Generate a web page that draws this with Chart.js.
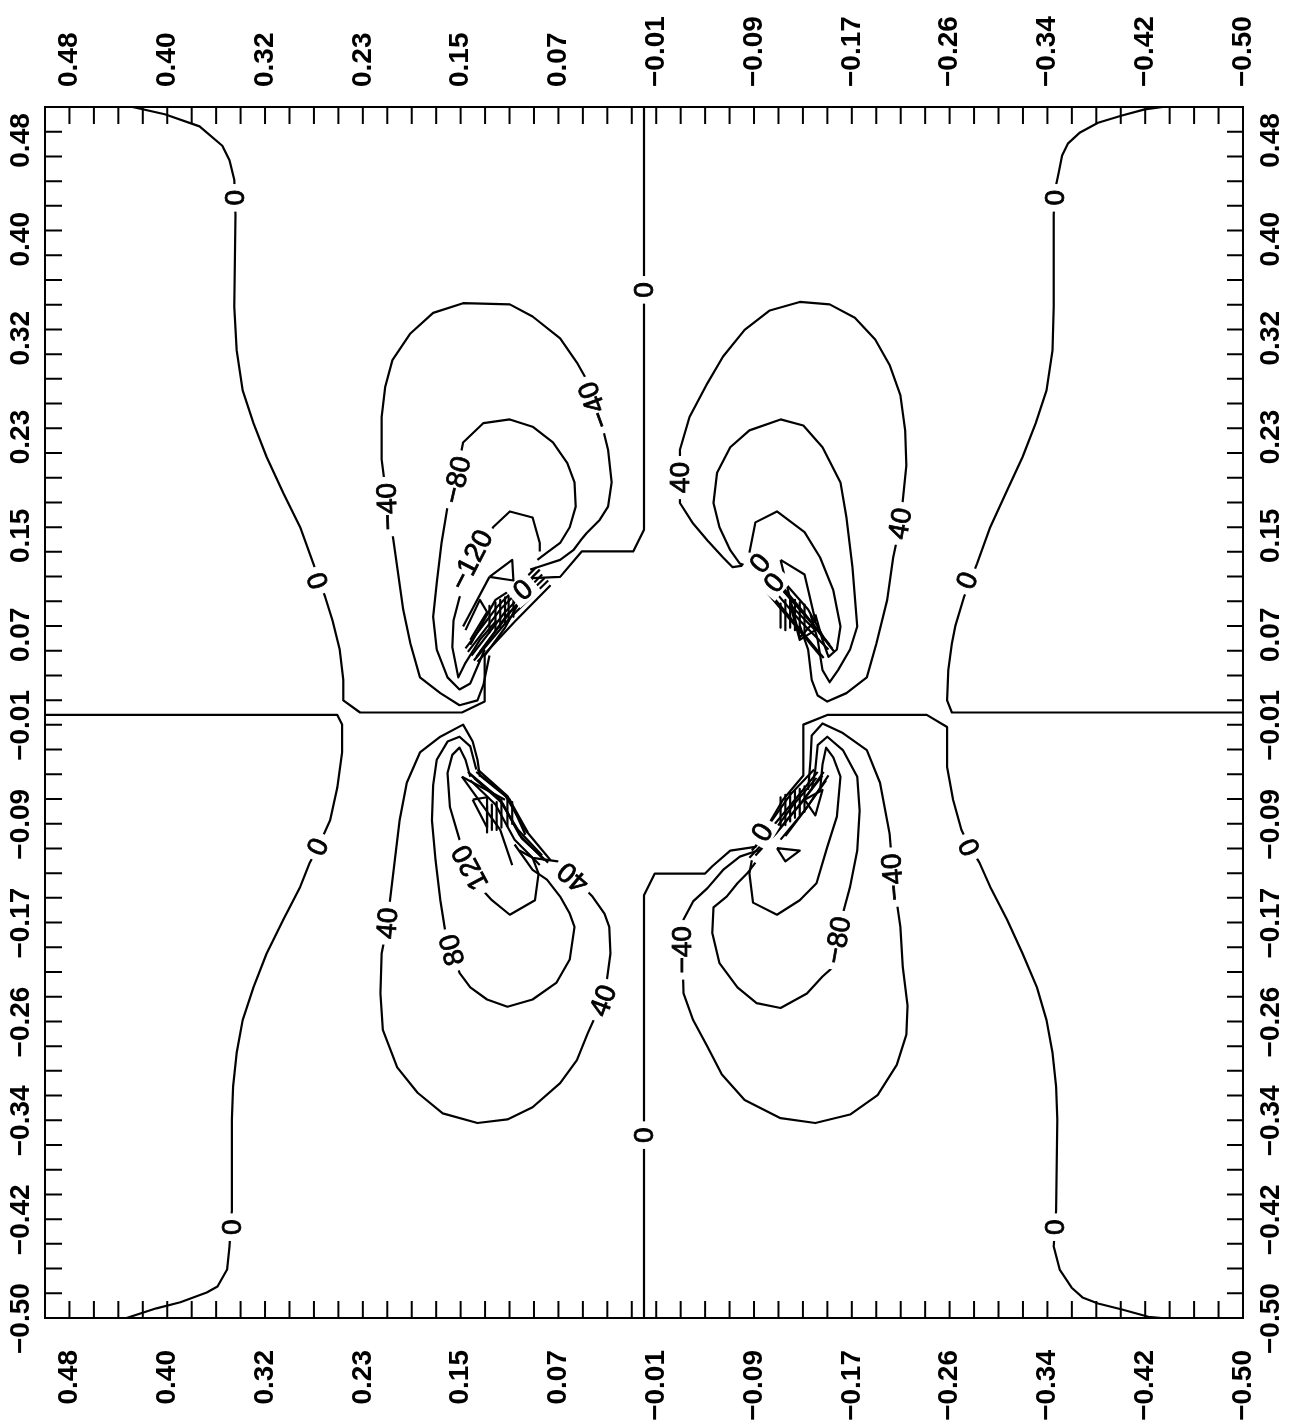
<!DOCTYPE html>
<html>
<head>
<meta charset="utf-8">
<script src="https://cdn.jsdelivr.net/npm/chart.js@4.4.1/dist/chart.umd.min.js"></script>
<style>
  html, body { margin: 0; padding: 0; background: #fff; }
  #wrap { width: 1295px; height: 1427px; }
</style>
</head>
<body>
<div id="wrap"><canvas id="contour" width="1295" height="1427"></canvas></div>
<script>
// tick labels (same on all four sides) and the values they sit at
const tickLabels = ['0.48', '0.40', '0.32', '0.23', '0.15', '0.07', '\u22120.01', '\u22120.09', '\u22120.17', '\u22120.26', '\u22120.34', '\u22120.42', '\u22120.50'];
const tickValues = [0.4796, 0.3980, 0.3163, 0.2347, 0.1531, 0.0714, -0.0102, -0.0918, -0.1735, -0.2551, -0.3367, -0.4184, -0.5];

// contour lines, [h, v] pairs
// upper left
const tlZero = [[0.427,0.500],[0.400,0.494],[0.371,0.484],[0.352,0.468],[0.346,0.456],[0.342,0.440],[0.341,0.411],[0.342,0.335],[0.340,0.299],[0.335,0.266],[0.326,0.239],[0.315,0.211],[0.301,0.181],[0.287,0.153],[0.276,0.123],[0.266,0.095],[0.260,0.076],[0.254,0.052],[0.251,0.027],[0.251,0.010],[0.237,0.000],[0.152,0.000],[0.133,0.009],[0.133,0.047],[0.116,0.070],[0.093,0.111],[0.070,0.112],[0.052,0.133],[0.009,0.133],[0.000,0.151],[0.000,0.500]];
const tl40 = [[0.095,0.118],[0.089,0.120],[0.070,0.126],[0.059,0.134],[0.053,0.142],[0.048,0.148],[0.037,0.159],[0.030,0.170],[0.027,0.190],[0.030,0.217],[0.034,0.233],[0.043,0.261],[0.048,0.275],[0.056,0.289],[0.070,0.309],[0.093,0.327],[0.112,0.337],[0.151,0.338],[0.176,0.330],[0.195,0.313],[0.210,0.291],[0.216,0.269],[0.219,0.244],[0.219,0.209],[0.215,0.178],[0.210,0.148],[0.206,0.120],[0.201,0.085],[0.195,0.057],[0.187,0.029],[0.170,0.016],[0.154,0.006],[0.139,0.010],[0.134,0.023],[0.129,0.047]];
const tl80 = [[0.089,0.126],[0.081,0.132],[0.070,0.140],[0.062,0.153],[0.057,0.170],[0.058,0.190],[0.064,0.206],[0.076,0.223],[0.093,0.236],[0.112,0.242],[0.134,0.239],[0.151,0.223],[0.156,0.198],[0.164,0.170],[0.169,0.140],[0.173,0.107],[0.176,0.079],[0.173,0.052],[0.164,0.029],[0.154,0.019],[0.145,0.024],[0.139,0.038],[0.133,0.052]];
const tl120 = [[0.087,0.133],[0.087,0.140],[0.093,0.161],[0.112,0.166],[0.126,0.153],[0.154,0.095],[0.159,0.076],[0.160,0.054],[0.155,0.029],[0.149,0.041],[0.137,0.060],[0.123,0.076]];
const tlCore = [
  [[0.147,0.050],[0.120,0.085],[0.087,0.118]],
  [[0.144,0.047],[0.116,0.083],[0.085,0.114]],
  [[0.140,0.046],[0.114,0.081],[0.083,0.111]],
  [[0.137,0.050],[0.110,0.085],[0.091,0.105]],
  [[0.145,0.056],[0.124,0.093],[0.099,0.109]],
  [[0.142,0.043],[0.112,0.078],[0.080,0.109]],
  [[0.149,0.053],[0.122,0.088],[0.090,0.120]],
  [[0.139,0.042],[0.108,0.075],[0.078,0.105]],
  [[0.129,0.088],[0.129,0.066]],
  [[0.124,0.091],[0.124,0.068]],
  [[0.120,0.093],[0.120,0.070]],
  [[0.116,0.095],[0.116,0.073]],
  [[0.113,0.096],[0.113,0.076]],
  [[0.109,0.098],[0.109,0.079]],
  [[0.129,0.112],[0.110,0.126],[0.109,0.109],[0.129,0.112]],
  [[0.151,0.071],[0.129,0.112]],
  [[0.149,0.068],[0.137,0.093],[0.131,0.083],[0.145,0.060]]
];

// upper right
const trZero = [[-0.433,0.500],[-0.418,0.498],[-0.399,0.493],[-0.379,0.487],[-0.364,0.479],[-0.354,0.470],[-0.349,0.460],[-0.346,0.445],[-0.343,0.431],[-0.342,0.411],[-0.342,0.335],[-0.341,0.299],[-0.336,0.266],[-0.327,0.239],[-0.316,0.211],[-0.302,0.181],[-0.289,0.153],[-0.278,0.123],[-0.267,0.095],[-0.260,0.072],[-0.257,0.057],[-0.254,0.035],[-0.253,0.010],[-0.257,0.000],[-0.500,0.000]];
const tr40 = [[-0.094,0.123],[-0.074,0.120],[-0.066,0.128],[-0.053,0.142],[-0.041,0.156],[-0.030,0.173],[-0.030,0.194],[-0.030,0.217],[-0.038,0.244],[-0.053,0.272],[-0.066,0.294],[-0.084,0.316],[-0.105,0.332],[-0.130,0.339],[-0.155,0.337],[-0.176,0.326],[-0.193,0.308],[-0.205,0.287],[-0.214,0.262],[-0.218,0.233],[-0.219,0.204],[-0.216,0.175],[-0.214,0.156],[-0.208,0.128],[-0.203,0.093],[-0.194,0.057],[-0.186,0.029],[-0.169,0.016],[-0.153,0.009],[-0.145,0.014],[-0.140,0.027],[-0.137,0.052],[-0.130,0.072]];
const tr80 = [[-0.091,0.119],[-0.080,0.123],[-0.072,0.134],[-0.063,0.153],[-0.058,0.173],[-0.061,0.198],[-0.072,0.219],[-0.088,0.233],[-0.114,0.242],[-0.133,0.237],[-0.149,0.219],[-0.164,0.190],[-0.169,0.161],[-0.174,0.120],[-0.178,0.071],[-0.172,0.052],[-0.162,0.035],[-0.155,0.025],[-0.149,0.035],[-0.145,0.060],[-0.139,0.081]];
const tr120 = [[-0.088,0.132],[-0.093,0.157],[-0.111,0.166],[-0.134,0.149],[-0.147,0.128],[-0.158,0.101],[-0.164,0.071],[-0.161,0.052],[-0.154,0.046],[-0.149,0.060],[-0.143,0.081]];
const trCore = [
  [[-0.105,0.105],[-0.130,0.076],[-0.154,0.052]],
  [[-0.109,0.109],[-0.134,0.081],[-0.155,0.056]],
  [[-0.114,0.111],[-0.137,0.085],[-0.151,0.060]],
  [[-0.101,0.101],[-0.126,0.072],[-0.147,0.047]],
  [[-0.107,0.114],[-0.133,0.083],[-0.157,0.053]],
  [[-0.104,0.100],[-0.129,0.070],[-0.150,0.045]],
  [[-0.112,0.105],[-0.139,0.075],[-0.159,0.050]],
  [[-0.114,0.090],[-0.114,0.070]],
  [[-0.118,0.093],[-0.118,0.068]],
  [[-0.122,0.095],[-0.122,0.070]],
  [[-0.126,0.093],[-0.126,0.068]],
  [[-0.130,0.091],[-0.130,0.066]],
  [[-0.134,0.089],[-0.134,0.064]],
  [[-0.114,0.126],[-0.134,0.114],[-0.143,0.076],[-0.130,0.062],[-0.114,0.126]],
  [[-0.122,0.089],[-0.143,0.068],[-0.130,0.060],[-0.122,0.089]]
];

// lower left
const blZero = [[0.500,-0.002],[0.256,-0.002],[0.252,-0.010],[0.252,-0.033],[0.256,-0.062],[0.262,-0.089],[0.272,-0.111],[0.279,-0.124],[0.287,-0.144],[0.301,-0.171],[0.315,-0.199],[0.326,-0.227],[0.335,-0.254],[0.340,-0.281],[0.343,-0.309],[0.344,-0.336],[0.344,-0.411],[0.346,-0.441],[0.348,-0.460],[0.356,-0.474],[0.365,-0.479],[0.387,-0.487],[0.407,-0.492],[0.432,-0.500]];
const bl40 = [[0.137,-0.053],[0.139,-0.039],[0.143,-0.024],[0.151,-0.010],[0.170,-0.020],[0.187,-0.033],[0.198,-0.058],[0.204,-0.089],[0.208,-0.122],[0.212,-0.155],[0.214,-0.174],[0.219,-0.199],[0.220,-0.232],[0.218,-0.262],[0.206,-0.293],[0.189,-0.314],[0.168,-0.331],[0.139,-0.339],[0.114,-0.336],[0.093,-0.326],[0.070,-0.306],[0.056,-0.287],[0.047,-0.265],[0.037,-0.243],[0.031,-0.221],[0.028,-0.199],[0.029,-0.177],[0.033,-0.166],[0.043,-0.152],[0.059,-0.136],[0.072,-0.123],[0.093,-0.120],[0.104,-0.114]];
const bl80 = [[0.108,-0.109],[0.093,-0.130],[0.081,-0.138],[0.070,-0.152],[0.062,-0.166],[0.058,-0.177],[0.062,-0.204],[0.073,-0.223],[0.093,-0.237],[0.114,-0.243],[0.131,-0.237],[0.145,-0.227],[0.154,-0.215],[0.160,-0.196],[0.166,-0.180],[0.170,-0.155],[0.174,-0.122],[0.177,-0.089],[0.176,-0.060],[0.173,-0.039],[0.164,-0.024],[0.154,-0.020],[0.145,-0.028],[0.140,-0.047]];
const bl120 = [[0.093,-0.120],[0.088,-0.133],[0.091,-0.155],[0.112,-0.167],[0.127,-0.155],[0.139,-0.142],[0.145,-0.128],[0.154,-0.105],[0.162,-0.078],[0.164,-0.050],[0.160,-0.035],[0.154,-0.029],[0.149,-0.039],[0.145,-0.053]];
const blCore = [
  [[0.144,-0.052],[0.120,-0.072],[0.104,-0.101],[0.083,-0.122]],
  [[0.140,-0.049],[0.116,-0.068],[0.099,-0.097],[0.078,-0.122]],
  [[0.137,-0.052],[0.112,-0.072],[0.099,-0.101]],
  [[0.145,-0.056],[0.124,-0.076],[0.108,-0.105],[0.087,-0.126]],
  [[0.147,-0.049],[0.122,-0.070],[0.105,-0.097],[0.085,-0.118]],
  [[0.142,-0.054],[0.118,-0.075],[0.102,-0.104],[0.080,-0.124]],
  [[0.139,-0.047],[0.114,-0.069],[0.097,-0.099]],
  [[0.131,-0.077],[0.131,-0.099]],
  [[0.127,-0.076],[0.127,-0.097]],
  [[0.123,-0.074],[0.123,-0.097]],
  [[0.119,-0.072],[0.119,-0.095]],
  [[0.114,-0.072],[0.114,-0.094]],
  [[0.110,-0.074],[0.110,-0.092]],
  [[0.152,-0.053],[0.116,-0.072]],
  [[0.152,-0.053],[0.120,-0.097],[0.110,-0.126]],
  [[0.143,-0.072],[0.131,-0.070],[0.131,-0.095],[0.143,-0.072]]
];

// lower right
const brZero = [[0.000,-0.500],[0.000,-0.151],[-0.009,-0.133],[-0.051,-0.133],[-0.057,-0.127],[-0.072,-0.114],[-0.093,-0.111],[-0.116,-0.072],[-0.133,-0.052],[-0.133,-0.010],[-0.153,-0.002],[-0.236,-0.002],[-0.253,-0.012],[-0.253,-0.045],[-0.258,-0.072],[-0.265,-0.097],[-0.272,-0.111],[-0.280,-0.124],[-0.289,-0.144],[-0.303,-0.171],[-0.316,-0.199],[-0.328,-0.227],[-0.336,-0.254],[-0.341,-0.281],[-0.344,-0.309],[-0.345,-0.336],[-0.344,-0.411],[-0.342,-0.441],[-0.347,-0.460],[-0.357,-0.475],[-0.366,-0.483],[-0.379,-0.488],[-0.399,-0.493],[-0.421,-0.499],[-0.432,-0.500]];
const br40 = [[-0.095,-0.114],[-0.080,-0.119],[-0.066,-0.130],[-0.053,-0.145],[-0.041,-0.156],[-0.033,-0.171],[-0.032,-0.196],[-0.033,-0.232],[-0.041,-0.254],[-0.053,-0.276],[-0.065,-0.299],[-0.084,-0.320],[-0.114,-0.335],[-0.143,-0.339],[-0.172,-0.332],[-0.195,-0.316],[-0.211,-0.291],[-0.219,-0.266],[-0.220,-0.242],[-0.216,-0.210],[-0.214,-0.177],[-0.208,-0.136],[-0.205,-0.100],[-0.197,-0.058],[-0.186,-0.031],[-0.166,-0.017],[-0.149,-0.009],[-0.140,-0.019],[-0.139,-0.039],[-0.137,-0.064]];
const br80 = [[-0.093,-0.124],[-0.086,-0.133],[-0.078,-0.141],[-0.069,-0.152],[-0.058,-0.161],[-0.057,-0.182],[-0.063,-0.207],[-0.078,-0.227],[-0.094,-0.240],[-0.114,-0.244],[-0.136,-0.232],[-0.149,-0.218],[-0.158,-0.210],[-0.162,-0.188],[-0.166,-0.166],[-0.172,-0.144],[-0.178,-0.114],[-0.180,-0.081],[-0.178,-0.053],[-0.166,-0.031],[-0.153,-0.020],[-0.145,-0.027],[-0.143,-0.047],[-0.140,-0.064]];
const br120 = [[-0.090,-0.122],[-0.088,-0.133],[-0.091,-0.157],[-0.111,-0.167],[-0.130,-0.155],[-0.144,-0.141],[-0.153,-0.111],[-0.161,-0.086],[-0.164,-0.053],[-0.158,-0.037],[-0.152,-0.029],[-0.149,-0.043],[-0.147,-0.064]];
const brCore = [
  [[-0.149,-0.052],[-0.130,-0.076],[-0.109,-0.101],[-0.093,-0.118]],
  [[-0.145,-0.049],[-0.126,-0.072],[-0.105,-0.097],[-0.090,-0.114]],
  [[-0.152,-0.056],[-0.134,-0.081],[-0.114,-0.105]],
  [[-0.142,-0.047],[-0.122,-0.068],[-0.104,-0.093]],
  [[-0.150,-0.049],[-0.132,-0.074],[-0.111,-0.099],[-0.095,-0.115]],
  [[-0.144,-0.054],[-0.124,-0.077],[-0.107,-0.100],[-0.088,-0.120]],
  [[-0.154,-0.052],[-0.137,-0.077],[-0.118,-0.102]],
  [[-0.114,-0.070],[-0.114,-0.095]],
  [[-0.118,-0.068],[-0.118,-0.093]],
  [[-0.122,-0.066],[-0.122,-0.090]],
  [[-0.126,-0.064],[-0.126,-0.087]],
  [[-0.130,-0.063],[-0.130,-0.085]],
  [[-0.134,-0.061],[-0.134,-0.082]],
  [[-0.111,-0.112],[-0.130,-0.114],[-0.118,-0.123],[-0.111,-0.112]],
  [[-0.134,-0.072],[-0.149,-0.064],[-0.143,-0.085],[-0.134,-0.072]]
];

// contour labels: [text, h, v]
const contourLabels = [
  ['0', 0.341, 0.425], ['0', 0.272, 0.109], ['0', 0.000, 0.349],
  ['\u221240', 0.214, 0.170], ['\u221240', 0.041, 0.254], ['\u221280', 0.156, 0.192], ['\u2212120', 0.144, 0.126], ['0', 0.101, 0.101],
  ['0', -0.343, 0.425], ['0', -0.270, 0.109],
  ['40', -0.030, 0.194], ['40', -0.214, 0.156], ['0', -0.097, 0.123], ['0', -0.109, 0.107],
  ['0', 0.272, -0.111], ['0', 0.344, -0.425], ['0', 0.000, -0.349],
  ['40', 0.214, -0.174], ['40', 0.034, -0.238], ['40', 0.059, -0.136], ['80', 0.160, -0.196], ['120', 0.145, -0.128],
  ['0', -0.272, -0.111], ['0', -0.343, -0.425],
  ['\u221240', -0.032, -0.196], ['\u221240', -0.208, -0.136], ['\u221280', -0.162, -0.188], ['0', -0.099, -0.099]
];
const labelAngles = [-90, -109, -90, -92, -110, -77, -63, -40, -90, -69, -90, -80, -50, -50, -65, -90, -90, -85, -70, -140, -105, -118, -115, -90, -90, -95, -80, -60];

const contourLines = [
  tlZero, tl40, tl80, tl120, ...tlCore,
  trZero, tr40, tr80, tr120, ...trCore,
  blZero, bl40, bl80, bl120, ...blCore,
  brZero, br40, br80, br120, ...brCore
];

const frameAndLabels = {
  id: 'frameAndLabels',
  afterDatasetsDraw(chart) {
    const { ctx, chartArea: a, scales: { x, y } } = chart;
    ctx.save();
    ctx.strokeStyle = '#000';
    ctx.lineWidth = 2;
    ctx.strokeRect(a.left, a.top, a.right - a.left, a.bottom - a.top);

    // inward ticks every 1/49
    ctx.beginPath();
    for (let k = 1; k < 49; k++) {
      const val = 0.5 - k / 49;
      const px = x.getPixelForValue(val);
      const py = y.getPixelForValue(val);
      ctx.moveTo(px, a.top); ctx.lineTo(px, a.top + 17);
      ctx.moveTo(px, a.bottom); ctx.lineTo(px, a.bottom - 17);
      ctx.moveTo(a.left, py); ctx.lineTo(a.left + 17, py);
      ctx.moveTo(a.right, py); ctx.lineTo(a.right - 16, py);
    }
    ctx.stroke();

    // tick labels, rotated to read upward
    ctx.fillStyle = '#000';
    ctx.font = 'bold 28px "Liberation Sans", Arial, sans-serif';
    const rot = (t, cx, cy, align) => {
      ctx.save();
      ctx.translate(cx, cy);
      ctx.rotate(-Math.PI / 2);
      ctx.textAlign = align;
      ctx.textBaseline = 'middle';
      ctx.fillText(t, 0, 0);
      ctx.restore();
    };
    tickValues.forEach((val, i) => {
      const t = tickLabels[i];
      const px = x.getPixelForValue(val);
      const py = y.getPixelForValue(val);
      rot(t, px, a.top - 20, 'left');
      rot(t, px, a.bottom + 32, 'right');
      rot(t, a.left - 24, py + 36, 'left');
      rot(t, a.right + 28, py + 36, 'left');
    });

    // contour labels with a white gap in the line
    ctx.font = '28px "Liberation Sans", Arial, sans-serif';
    ctx.lineWidth = 0.8;
    contourLabels.forEach((lb, i) => {
      const px = x.getPixelForValue(lb[1]);
      const py = y.getPixelForValue(lb[2]);
      ctx.save();
      ctx.translate(px, py);
      ctx.rotate(labelAngles[i] * Math.PI / 180);
      const w = ctx.measureText(lb[0]).width;
      ctx.fillStyle = '#fff';
      ctx.fillRect(-w / 2 - 6, -12, w + 12, 24);
      ctx.fillStyle = '#000';
      ctx.textAlign = 'center';
      ctx.textBaseline = 'middle';
      ctx.fillText(lb[0], 0, 1);
      ctx.strokeText(lb[0], 0, 1);
      ctx.restore();
    });
    ctx.restore();
  }
};

const ctx = document.getElementById('contour').getContext('2d');
new Chart(ctx, {
  type: 'scatter',
  data: {
    datasets: contourLines.map(pts => ({
      data: pts.map(p => ({ x: p[0], y: p[1] })),
      showLine: true,
      borderColor: '#000',
      borderWidth: 2.2,
      pointRadius: 0,
      tension: 0,
      fill: false,
      borderJoinStyle: 'round'
    }))
  },
  options: {
    responsive: false,
    animation: false,
    devicePixelRatio: 1,
    layout: { padding: { left: 45, top: 107, right: 52, bottom: 109 } },
    plugins: { legend: { display: false }, tooltip: { enabled: false } },
    scales: {
      x: { type: 'linear', min: -0.5, max: 0.5, reverse: true, display: false },
      y: { type: 'linear', min: -0.5, max: 0.5, display: false }
    }
  },
  plugins: [frameAndLabels]
});
</script>
</body>
</html>
